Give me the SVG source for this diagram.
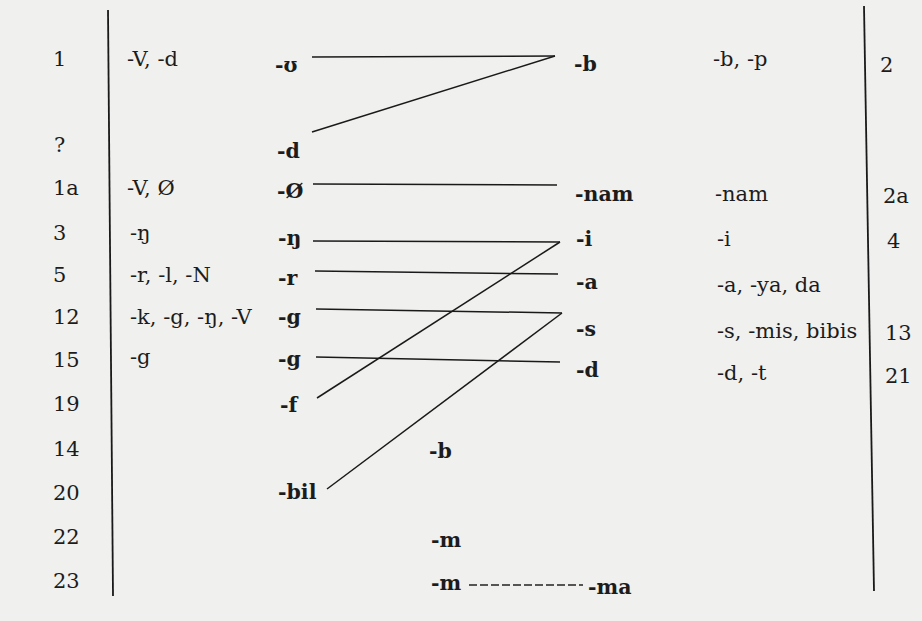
<svg xmlns="http://www.w3.org/2000/svg" width="922" height="621" viewBox="0 0 922 621">
<style>
text{font-family:"DejaVu Serif","Liberation Serif",serif;font-size:21px;fill:#1c1c1c}
.b{font-weight:bold;font-size:20.5px}
.ln{stroke:#1a1a1a;stroke-width:1.5;fill:none}
.rule{stroke:#1a1a1a;stroke-width:1.8;fill:none}
.dash{stroke:#222;stroke-width:1.3;stroke-dasharray:8 3;fill:none}
</style>
<rect x="0" y="0" width="922" height="621" fill="#f0f0ee"/>
<g id="rules">
<line class="rule" x1="108" y1="10" x2="113" y2="596"/>
<line class="rule" x1="864" y1="6" x2="874" y2="591"/>
</g>
<g id="connectors">
<line class="ln" x1="312" y1="57" x2="555" y2="56"/>
<line class="ln" x1="312" y1="132" x2="555" y2="56"/>
<line class="ln" x1="313" y1="184" x2="557" y2="185"/>
<line class="ln" x1="313" y1="241" x2="560" y2="242"/>
<line class="ln" x1="317" y1="398" x2="560" y2="242"/>
<line class="ln" x1="315" y1="271" x2="558" y2="274"/>
<line class="ln" x1="316" y1="309" x2="562" y2="313"/>
<line class="ln" x1="327" y1="489" x2="562" y2="313"/>
<line class="ln" x1="316" y1="357" x2="560" y2="362"/>
<line class="dash" x1="469" y1="585" x2="583" y2="585"/>
</g>
<g id="row-numbers">
<text x="53" y="66">1</text>
<text x="54" y="152">?</text>
<text x="53" y="195">1a</text>
<text x="53" y="240">3</text>
<text x="53" y="282">5</text>
<text x="53" y="324">12</text>
<text x="53" y="367">15</text>
<text x="53" y="411">19</text>
<text x="53" y="456">14</text>
<text x="53" y="500">20</text>
<text x="53" y="544">22</text>
<text x="53" y="588">23</text>
</g>
<g id="col-a">
<text x="127" y="66">-V, -d</text>
<text x="127" y="195">-V, Ø</text>
<text x="130" y="240">-ŋ</text>
<text x="130" y="282">-r, -l, -N</text>
<text x="130" y="324">-k, -g, -ŋ, -V</text>
<text x="130" y="364">-g</text>
</g>
<g id="col-b">
<text class="b" x="275" y="72">-ʊ</text>
<text class="b" x="277" y="158">-d</text>
<text class="b" x="277" y="198">-Ø</text>
<text class="b" x="278" y="245">-ŋ</text>
<text class="b" x="278" y="285">-r</text>
<text class="b" x="278" y="324">-g</text>
<text class="b" x="278" y="366">-g</text>
<text class="b" x="280" y="412">-f</text>
<text class="b" x="278" y="499">-bil</text>
</g>
<g id="col-c">
<text class="b" x="574" y="71">-b</text>
<text class="b" x="575" y="201">-nam</text>
<text class="b" x="576" y="246">-i</text>
<text class="b" x="576" y="289">-a</text>
<text class="b" x="576" y="336">-s</text>
<text class="b" x="576" y="377">-d</text>
<text class="b" x="429" y="458">-b</text>
<text class="b" x="431" y="547">-m</text>
<text class="b" x="431" y="590">-m</text>
<text class="b" x="588" y="594">-ma</text>
</g>
<g id="col-d">
<text x="713" y="66">-b, -p</text>
<text x="715" y="201">-nam</text>
<text x="717" y="246">-i</text>
<text x="717" y="292">-a, -ya, da</text>
<text x="717" y="338">-s, -mis, bibis</text>
<text x="717" y="380">-d, -t</text>
</g>
<g id="col-e">
<text x="880" y="72">2</text>
<text x="883" y="203">2a</text>
<text x="887" y="248">4</text>
<text x="885" y="340">13</text>
<text x="885" y="383">21</text>
</g>
</svg>
